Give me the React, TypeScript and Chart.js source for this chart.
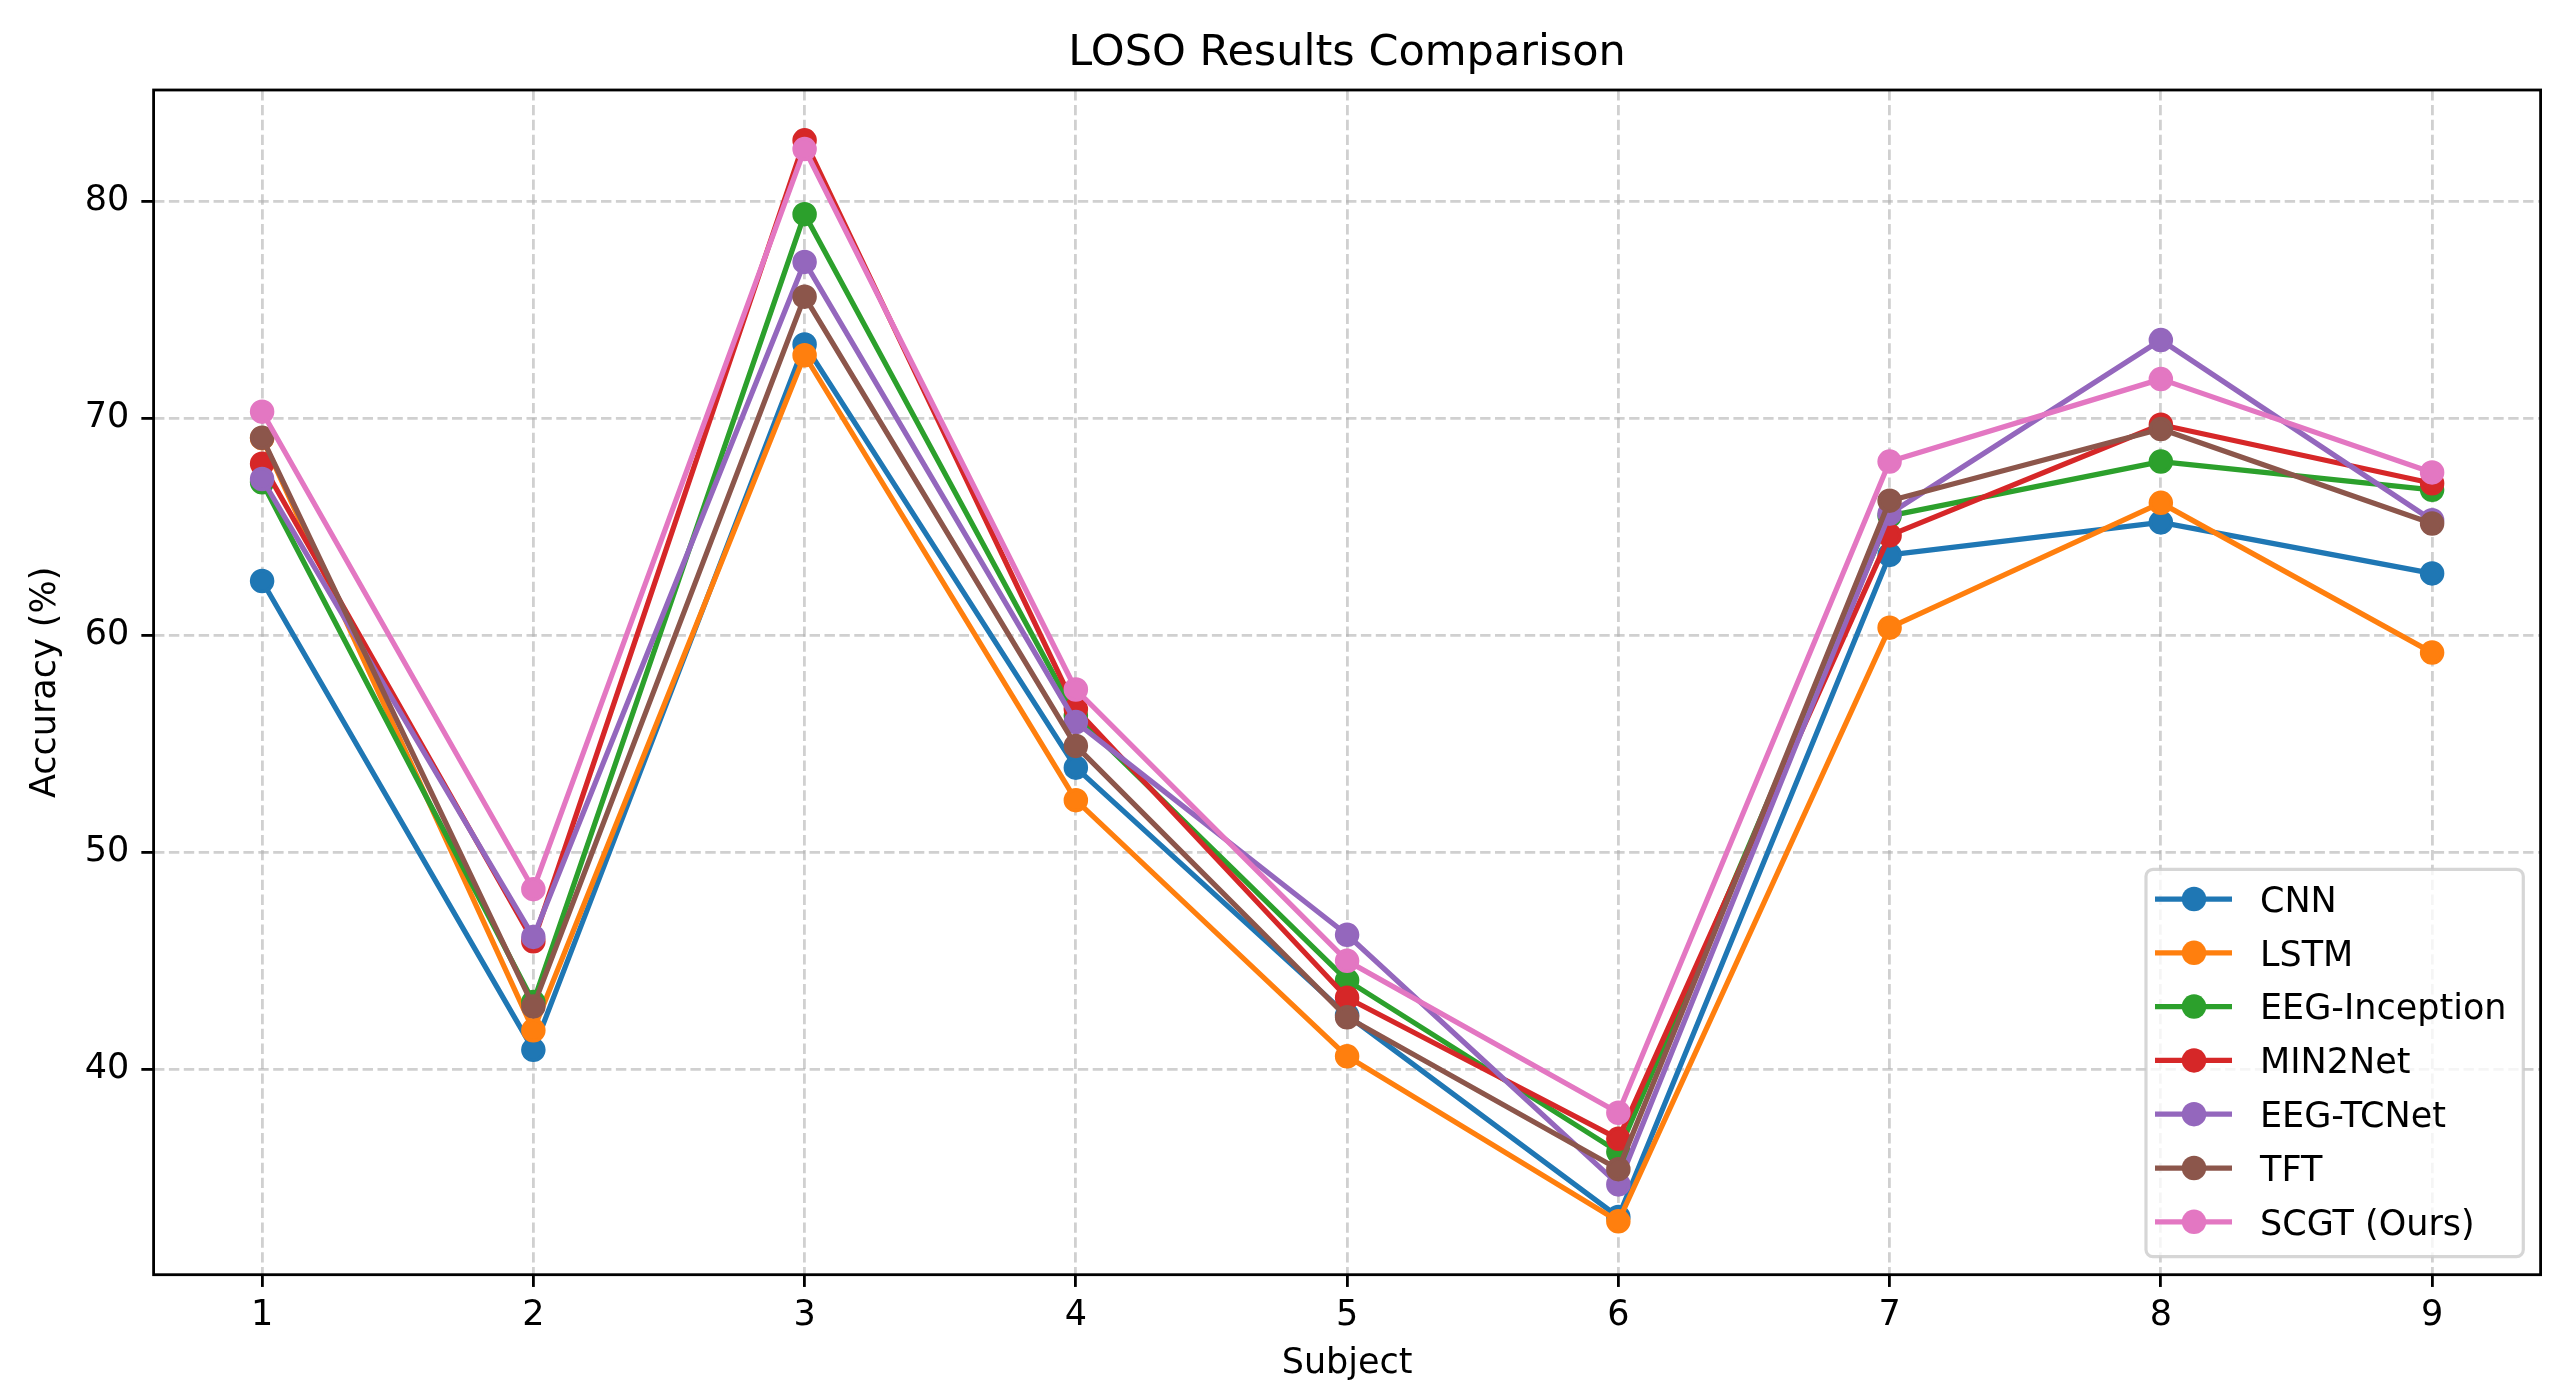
import { useEffect, useRef } from "react"
import { Chart, registerables } from "chart.js"
import type { Plugin } from "chart.js"

Chart.register(...registerables)

// data
const subjects = [1, 2, 3, 4, 5, 6, 7, 8, 9]
const yTicks = [40, 50, 60, 70, 80]

const modelNames = ["CNN", "LSTM", "EEG-Inception", "MIN2Net", "EEG-TCNet", "TFT", "SCGT (Ours)"]
const modelColors = ["#1f77b4", "#ff7f0e", "#2ca02c", "#d62728", "#9467bd", "#8c564b", "#e377c2"]

const cnn = [62.5, 40.9, 73.4, 53.9, 42.5, 33.2, 63.7, 65.2, 62.85]
const lstm = [69.08, 41.8, 72.9, 52.4, 40.6, 33.0, 60.35, 66.1, 59.2]
const eegInception = [67.05, 43.1, 79.4, 56.3, 44.1, 36.2, 65.5, 68.0, 66.7]
const min2net = [67.9, 45.9, 82.8, 56.6, 43.3, 36.8, 64.6, 69.7, 67.0]
const eegTcnet = [67.2, 46.1, 77.2, 56.0, 46.2, 34.7, 65.6, 73.6, 65.3]
const tft = [69.1, 42.9, 75.6, 54.9, 42.4, 35.4, 66.2, 69.5, 65.15]
const scgt = [70.3, 48.3, 82.4, 57.5, 45.0, 38.0, 68.0, 71.8, 67.5]

const modelValues = [cnn, lstm, eegInception, min2net, eegTcnet, tft, scgt]

const FONT = "'DejaVu Sans', sans-serif"
const GRID = "rgba(176, 176, 176, 0.6)"

// matplotlib-like frame round the axes
const framePlugin: Plugin<"line"> = {
  id: "frame",
  afterDatasetsDraw(chart) {
    const { ctx, chartArea: a } = chart
    ctx.save()
    ctx.strokeStyle = "#000"
    ctx.lineWidth = 2.8
    ctx.strokeRect(a.left, a.top, a.right - a.left, a.bottom - a.top)
    ctx.restore()
  },
}

// legend box in the lower right of the axes
const legendPlugin: Plugin<"line"> = {
  id: "boxLegend",
  afterDraw(chart) {
    const { ctx } = chart
    const x = 2146
    const y = 869.3
    const w = 377.3
    const h = 387.4
    const r = 7
    ctx.save()
    ctx.beginPath()
    ctx.moveTo(x + r, y)
    ctx.lineTo(x + w - r, y)
    ctx.arcTo(x + w, y, x + w, y + r, r)
    ctx.lineTo(x + w, y + h - r)
    ctx.arcTo(x + w, y + h, x + w - r, y + h, r)
    ctx.lineTo(x + r, y + h)
    ctx.arcTo(x, y + h, x, y + h - r, r)
    ctx.lineTo(x, y + r)
    ctx.arcTo(x, y, x + r, y, r)
    ctx.closePath()
    ctx.fillStyle = "rgba(255, 255, 255, 0.8)"
    ctx.fill()
    ctx.strokeStyle = "rgba(204, 204, 204, 0.8)"
    ctx.lineWidth = 3.2
    ctx.stroke()

    ctx.font = `35px ${FONT}`
    ctx.textAlign = "left"
    ctx.textBaseline = "alphabetic"
    modelNames.forEach((name, i) => {
      const rowY = 899 + i * 53.8
      const color = modelColors[i]
      ctx.strokeStyle = color
      ctx.lineWidth = 5.25
      ctx.beginPath()
      ctx.moveTo(2155, rowY)
      ctx.lineTo(2232, rowY)
      ctx.stroke()
      ctx.fillStyle = color
      ctx.beginPath()
      ctx.arc(2194, rowY, 12.25, 0, Math.PI * 2)
      ctx.fill()
      ctx.fillStyle = "#000"
      ctx.fillText(name, 2260, rowY + 12.7)
    })
    ctx.restore()
  },
}

function LosoChart() {
  const chartRef = useRef<HTMLCanvasElement>(null)
  const chartInstance = useRef<Chart | null>(null)

  useEffect(() => {
    if (!chartRef.current) return
    if (chartInstance.current) {
      chartInstance.current.destroy()
    }
    const ctx = chartRef.current.getContext("2d")
    if (!ctx) return

    const datasets = modelNames.map((name, i) => ({
      label: name,
      data: subjects.map((s, j) => ({ x: s, y: modelValues[i][j] })),
      borderColor: modelColors[i],
      backgroundColor: modelColors[i],
      pointBackgroundColor: modelColors[i],
      pointBorderColor: modelColors[i],
      pointRadius: 10.5,
      pointHoverRadius: 10.5,
      pointBorderWidth: 3.5,
      borderWidth: 5.25,
      borderJoinStyle: "round" as const,
      tension: 0,
      fill: false,
      order: modelNames.length - 1 - i,
    }))

    chartInstance.current = new Chart(ctx, {
      type: "line",
      data: { datasets },
      plugins: [framePlugin, legendPlugin],
      options: {
        responsive: true,
        maintainAspectRatio: false,
        animation: false,
        layout: { padding: { left: 0, right: 32.4, top: 0, bottom: 0 } },
        plugins: {
          legend: { display: false },
          tooltip: { enabled: false },
          title: {
            display: true,
            fullSize: false,
            text: "LOSO Results Comparison",
            color: "#000",
            font: { family: FONT, size: 43, weight: "normal" },
            padding: { top: 28, bottom: 10.4 },
          },
        },
        scales: {
          x: {
            type: "linear",
            min: 0.6,
            max: 9.4,
            afterBuildTicks: (scale) => {
              scale.ticks = subjects.map((v) => ({ value: v }))
            },
            afterFit: (scale) => {
              scale.height = 120.3
            },
            ticks: {
              color: "#000",
              font: { family: FONT, size: 35 },
              padding: 8,
              maxRotation: 0,
              autoSkip: false,
              callback: (v) => String(v),
            },
            grid: {
              color: GRID,
              lineWidth: 2.8,
              drawTicks: true,
              tickLength: 12.25,
              tickWidth: 2.8,
              tickColor: "#000",
            },
            border: { display: false, dash: [10.4, 4.5] },
            title: {
              display: true,
              text: "Subject",
              color: "#000",
              font: { family: FONT, size: 35 },
              padding: { top: 0, bottom: 10 },
            },
          },
          y: {
            type: "linear",
            min: 30.54,
            max: 85.12,
            afterBuildTicks: (scale) => {
              scale.ticks = yTicks.map((v) => ({ value: v }))
            },
            afterFit: (scale) => {
              scale.width = 153.6
            },
            ticks: {
              color: "#000",
              font: { family: FONT, size: 35 },
              padding: 12,
              autoSkip: false,
              callback: (v) => String(v),
            },
            grid: {
              color: GRID,
              lineWidth: 2.8,
              drawTicks: true,
              tickLength: 12.25,
              tickWidth: 2.8,
              tickColor: "#000",
            },
            border: { display: false, dash: [10.4, 4.5] },
            title: {
              display: true,
              text: "Accuracy (%)",
              color: "#000",
              font: { family: FONT, size: 35 },
              padding: { top: 25, bottom: 0 },
            },
          },
        },
      },
    })

    return () => {
      if (chartInstance.current) {
        chartInstance.current.destroy()
        chartInstance.current = null
      }
    }
  }, [])

  return <canvas ref={chartRef} />
}

export default function App() {
  useEffect(() => {
    document.body.style.margin = "0"
  }, [])

  return (
    <div
      style={{
        position: "absolute",
        left: 0,
        top: 0,
        width: 2573,
        height: 1395,
        background: "#fff",
      }}
    >
      <LosoChart />
    </div>
  )
}
